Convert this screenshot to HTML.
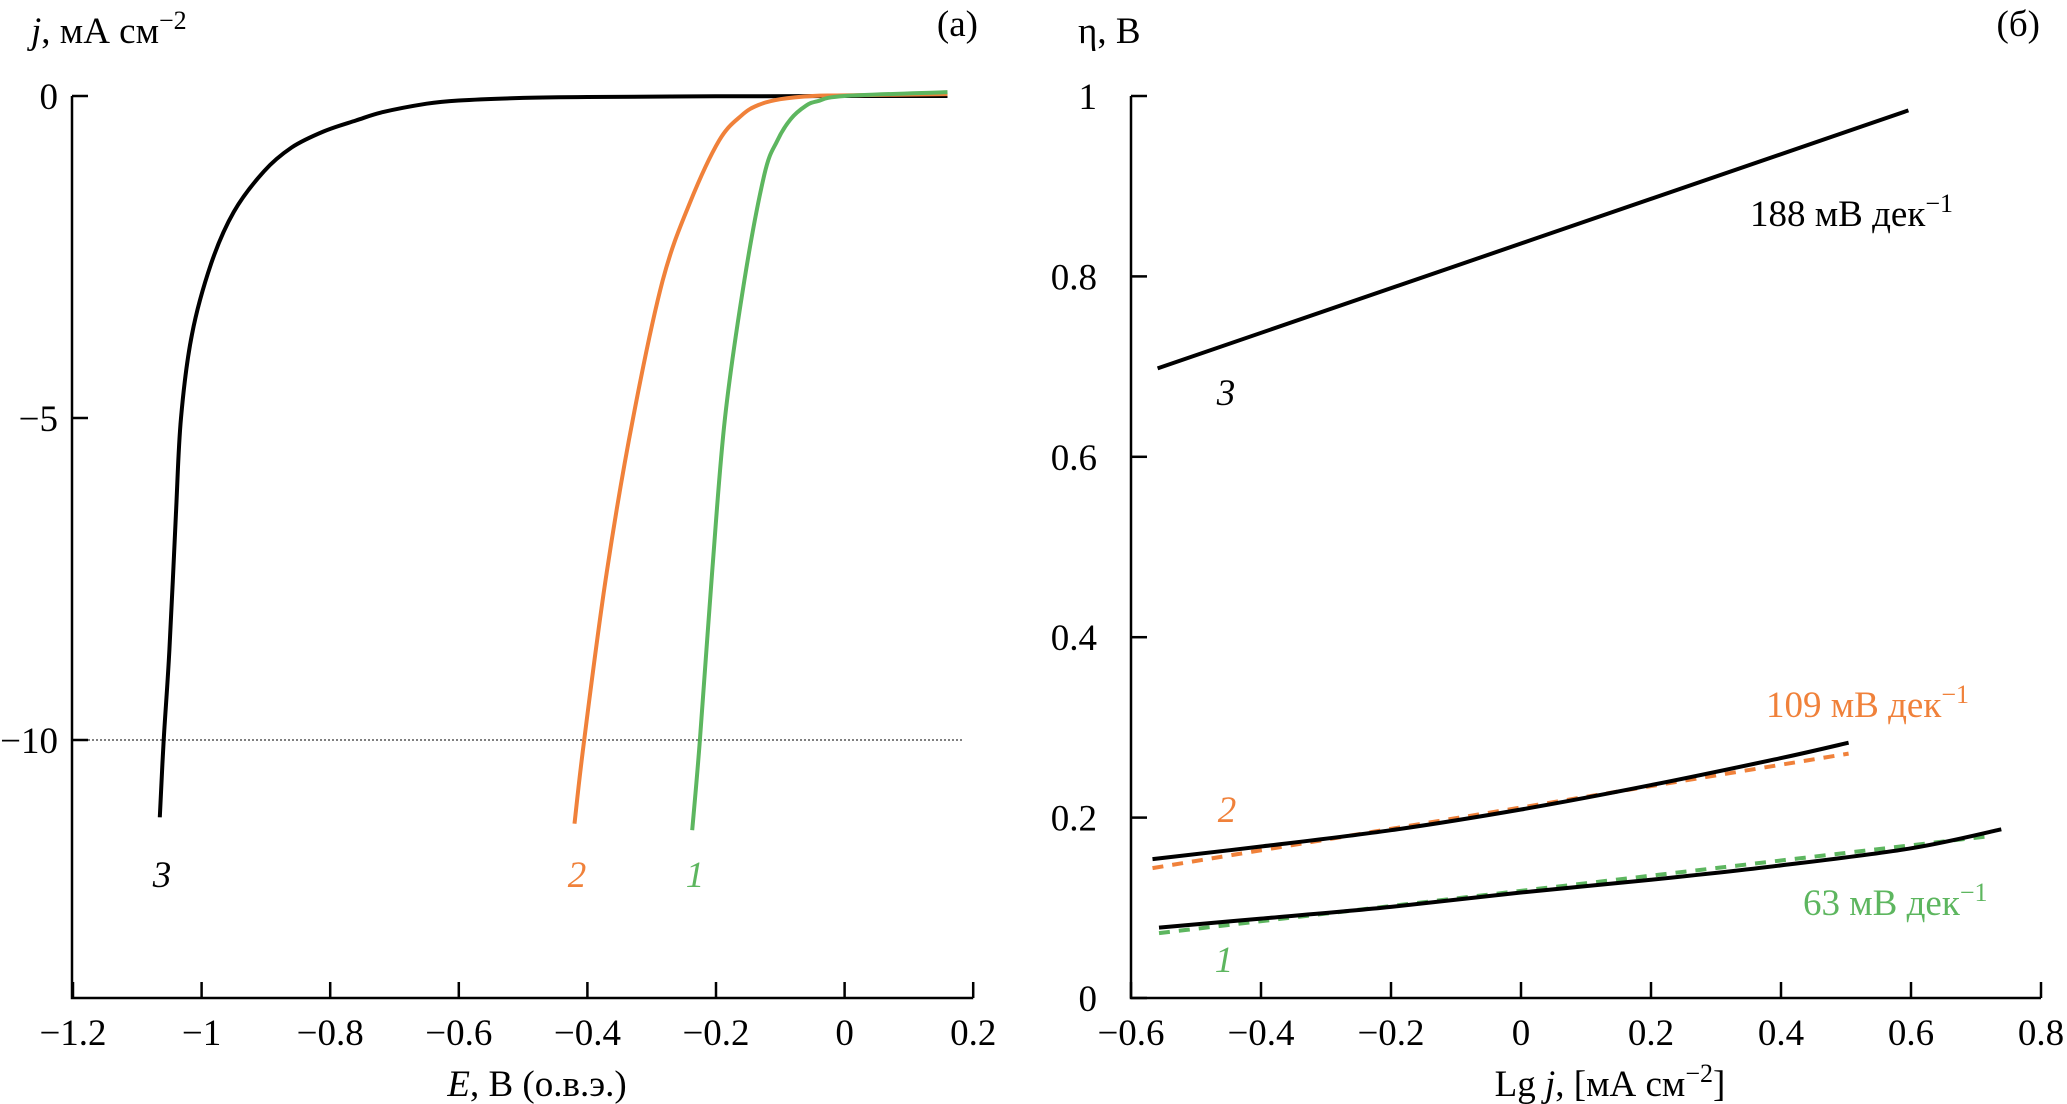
<!DOCTYPE html>
<html><head><meta charset="utf-8"><style>
html,body{margin:0;padding:0;background:#fff;}
svg{display:block;font-family:"Liberation Serif","DejaVu Serif",serif;}
</style></head><body>
<svg id="c" width="2067" height="1104" viewBox="0 0 2067 1104"></svg>
<script>
// Panel (a) data
const aXTicks=[-1.2,-1,-0.8,-0.6,-0.4,-0.2,0,0.2];
const aXTickLabels=["\u22121.2","\u22121","\u22120.8","\u22120.6","\u22120.4","\u22120.2","0","0.2"];
const aYTicks=[0,-5,-10];
const aYTickLabels=["0","\u22125","\u221210"];
const c3E=[-1.065,-1.059,-1.05,-1.04,-1.032,-1.015,-0.985,-0.95,-0.903,-0.86,-0.81,-0.76,-0.718,-0.65,-0.6,-0.5,-0.4,-0.2,0,0.16];
const c3J=[-11.2,-10,-8.6,-6.5,-5.0,-3.7,-2.6,-1.8,-1.17,-0.8,-0.55,-0.38,-0.25,-0.12,-0.07,-0.03,-0.015,-0.005,0,0];
const c2E=[-0.42,-0.405,-0.37,-0.329,-0.283,-0.241,-0.195,-0.16,-0.134,-0.1,-0.05,0,0.16];
const c2J=[-11.3,-10,-7.4,-5.0,-2.87,-1.67,-0.69,-0.3,-0.14,-0.05,0,0.01,0.03];
const c1E=[-0.237,-0.225,-0.206,-0.186,-0.156,-0.125,-0.105,-0.084,-0.06,-0.042,0,0.16];
const c1J=[-11.4,-10,-7.4,-5.0,-2.87,-1.23,-0.7,-0.36,-0.15,-0.08,0,0.06];
// Panel (b) data
const bXTicks=[-0.6,-0.4,-0.2,0,0.2,0.4,0.6,0.8];
const bXTickLabels=["\u22120.6","\u22120.4","\u22120.2","0","0.2","0.4","0.6","0.8"];
const bYTicks=[0,0.2,0.4,0.6,0.8,1];
const bYTickLabels=["0","0.2","0.4","0.6","0.8","1"];
const t3L=[-0.559,0.596];
const t3H=[0.698,0.984];
const t2L=[-0.567,-0.4,-0.2,0,0.2,0.4,0.504];
const t2H=[0.154,0.168,0.186,0.209,0.236,0.266,0.283];
const f2L=[-0.567,0.504];
const f2H=[0.144,0.271];
const t1L=[-0.557,-0.4,-0.2,0,0.2,0.4,0.6,0.739];
const t1H=[0.078,0.088,0.101,0.117,0.131,0.147,0.166,0.187];
const f1L=[-0.557,0.716];
const f1H=[0.072,0.179];

const NS="http://www.w3.org/2000/svg";
const svg=document.getElementById('c');
function mk(tag,attrs,parent){const e=document.createElementNS(NS,tag);for(const k in attrs)e.setAttribute(k,attrs[k]);(parent||svg).appendChild(e);return e;}
const ax=v=>73+(v+1.2)*643;
const ay=v=>96-v*64.4;
const bx=v=>1131+(v+0.6)*650;
const by=v=>998-v*902;
const FS=37;

function txt(x,y,s,name,opts){const t=mk('text',Object.assign({x:x,y:y,'font-size':FS,fill:'#000'},opts||{}));t.innerHTML=s;


return t;}
function line(xs,ys,fx,fy,color,name,dash){
 const P=xs.map((x,i)=>[fx(x),fy(ys[i])]);
 let d='M'+P[0][0].toFixed(1)+' '+P[0][1].toFixed(1);
 for(let i=0;i<P.length-1;i++){
  const p0=P[Math.max(0,i-1)],p1=P[i],p2=P[i+1],p3=P[Math.min(P.length-1,i+2)];
  const c1=[p1[0]+(p2[0]-p0[0])/6,p1[1]+(p2[1]-p0[1])/6];
  const c2=[p2[0]-(p3[0]-p1[0])/6,p2[1]-(p3[1]-p1[1])/6];
  d+='C'+c1[0].toFixed(1)+' '+c1[1].toFixed(1)+' '+c2[0].toFixed(1)+' '+c2[1].toFixed(1)+' '+p2[0].toFixed(1)+' '+p2[1].toFixed(1);
 }
 const p=mk('path',{d:d,fill:'none',stroke:color,'stroke-width':4,'stroke-linejoin':'round'});
 if(dash)p.setAttribute('stroke-dasharray','11 9');
 
 
 return p;}
const sup='<tspan dy="-14" font-size="26">';

// Panel a
mk('path',{d:`M${ax(-1.2)-1} ${ay(0)}V998H${ax(0.2)}`,fill:'none',stroke:'#000','stroke-width':2.5});
aXTicks.forEach((v,i)=>{mk('line',{x1:ax(v),x2:ax(v),y1:998,y2:982,stroke:'#000','stroke-width':2.5});
 txt(ax(v),1045,aXTickLabels[i],'x-tick-label-a',{'text-anchor':'middle'});});
aYTicks.forEach((v,i)=>{mk('line',{x1:72,x2:88,y1:ay(v),y2:ay(v),stroke:'#000','stroke-width':2.5});
 txt(58,ay(v)+13,aYTickLabels[i],'y-tick-label-a',{'text-anchor':'end'});});
const ref=mk('line',{x1:72,x2:962,y1:ay(-10),y2:ay(-10),stroke:'#000','stroke-width':1,'stroke-dasharray':'2 2'});


line(c3E,c3J,ax,ay,'#000','curve-3-a');
line(c2E,c2J,ax,ay,'#f0813a','curve-2-a');
line(c1E,c1J,ax,ay,'#5db65f','curve-1-a');
txt(162,887,'3','label-3-a',{'font-style':'italic','text-anchor':'middle'});
txt(577,887,'2','label-2-a',{'font-style':'italic','text-anchor':'middle',fill:'#f0813a'});
txt(695,887,'1','label-1-a',{'font-style':'italic','text-anchor':'middle',fill:'#5db65f'});
txt(31,43,'<tspan font-style="italic">j</tspan>, мА см'+sup+'\u22122</tspan>','y-axis-title-a');
txt(537,1096,'<tspan font-style="italic">E</tspan>, В (о.в.э.)','x-axis-title-a',{'text-anchor':'middle'});
txt(978,36,'(a)','panel-label-a',{'text-anchor':'end'});

// Panel b
mk('path',{d:`M${bx(-0.6)} ${by(1)}V998H${bx(0.8)}`,fill:'none',stroke:'#000','stroke-width':2.5});
bXTicks.forEach((v,i)=>{mk('line',{x1:bx(v),x2:bx(v),y1:998,y2:982,stroke:'#000','stroke-width':2.5});
 txt(bx(v),1045,bXTickLabels[i],'x-tick-label-b',{'text-anchor':'middle'});});
bYTicks.forEach((v,i)=>{mk('line',{x1:bx(-0.6),x2:bx(-0.6)+16,y1:by(v),y2:by(v),stroke:'#000','stroke-width':2.5});
 txt(1097,by(v)+13,bYTickLabels[i],'y-tick-label-b',{'text-anchor':'end'});});
line(f2L,f2H,bx,by,'#f0813a','fit-2-b',true);
line(f1L,f1H,bx,by,'#5db65f','fit-1-b',true);
line(t3L,t3H,bx,by,'#000','curve-3-b');
line(t2L,t2H,bx,by,'#000','curve-2-b');
line(t1L,t1H,bx,by,'#000','curve-1-b');
txt(1226,405,'3','label-3-b',{'font-style':'italic','text-anchor':'middle'});
txt(1227,822,'2','label-2-b',{'font-style':'italic','text-anchor':'middle',fill:'#f0813a'});
txt(1224,972,'1','label-1-b',{'font-style':'italic','text-anchor':'middle',fill:'#5db65f'});
txt(1750,226,'188 мВ дек'+sup+'\u22121</tspan>','slope-label-3');
txt(1766,717,'109 мВ дек'+sup+'\u22121</tspan>','slope-label-2',{fill:'#f0813a'});
txt(1803,915,'63 мВ дек'+sup+'\u22121</tspan>','slope-label-1',{fill:'#5db65f'});
txt(1078,43,'η, В','y-axis-title-b');
txt(1610,1096,'Lg <tspan font-style="italic">j</tspan>, [мА см'+sup+'\u22122</tspan><tspan dy="14">]</tspan>','x-axis-title-b',{'text-anchor':'middle'});
txt(2040,36,'(б)','panel-label-b',{'text-anchor':'end'});
</script>
</body></html>
